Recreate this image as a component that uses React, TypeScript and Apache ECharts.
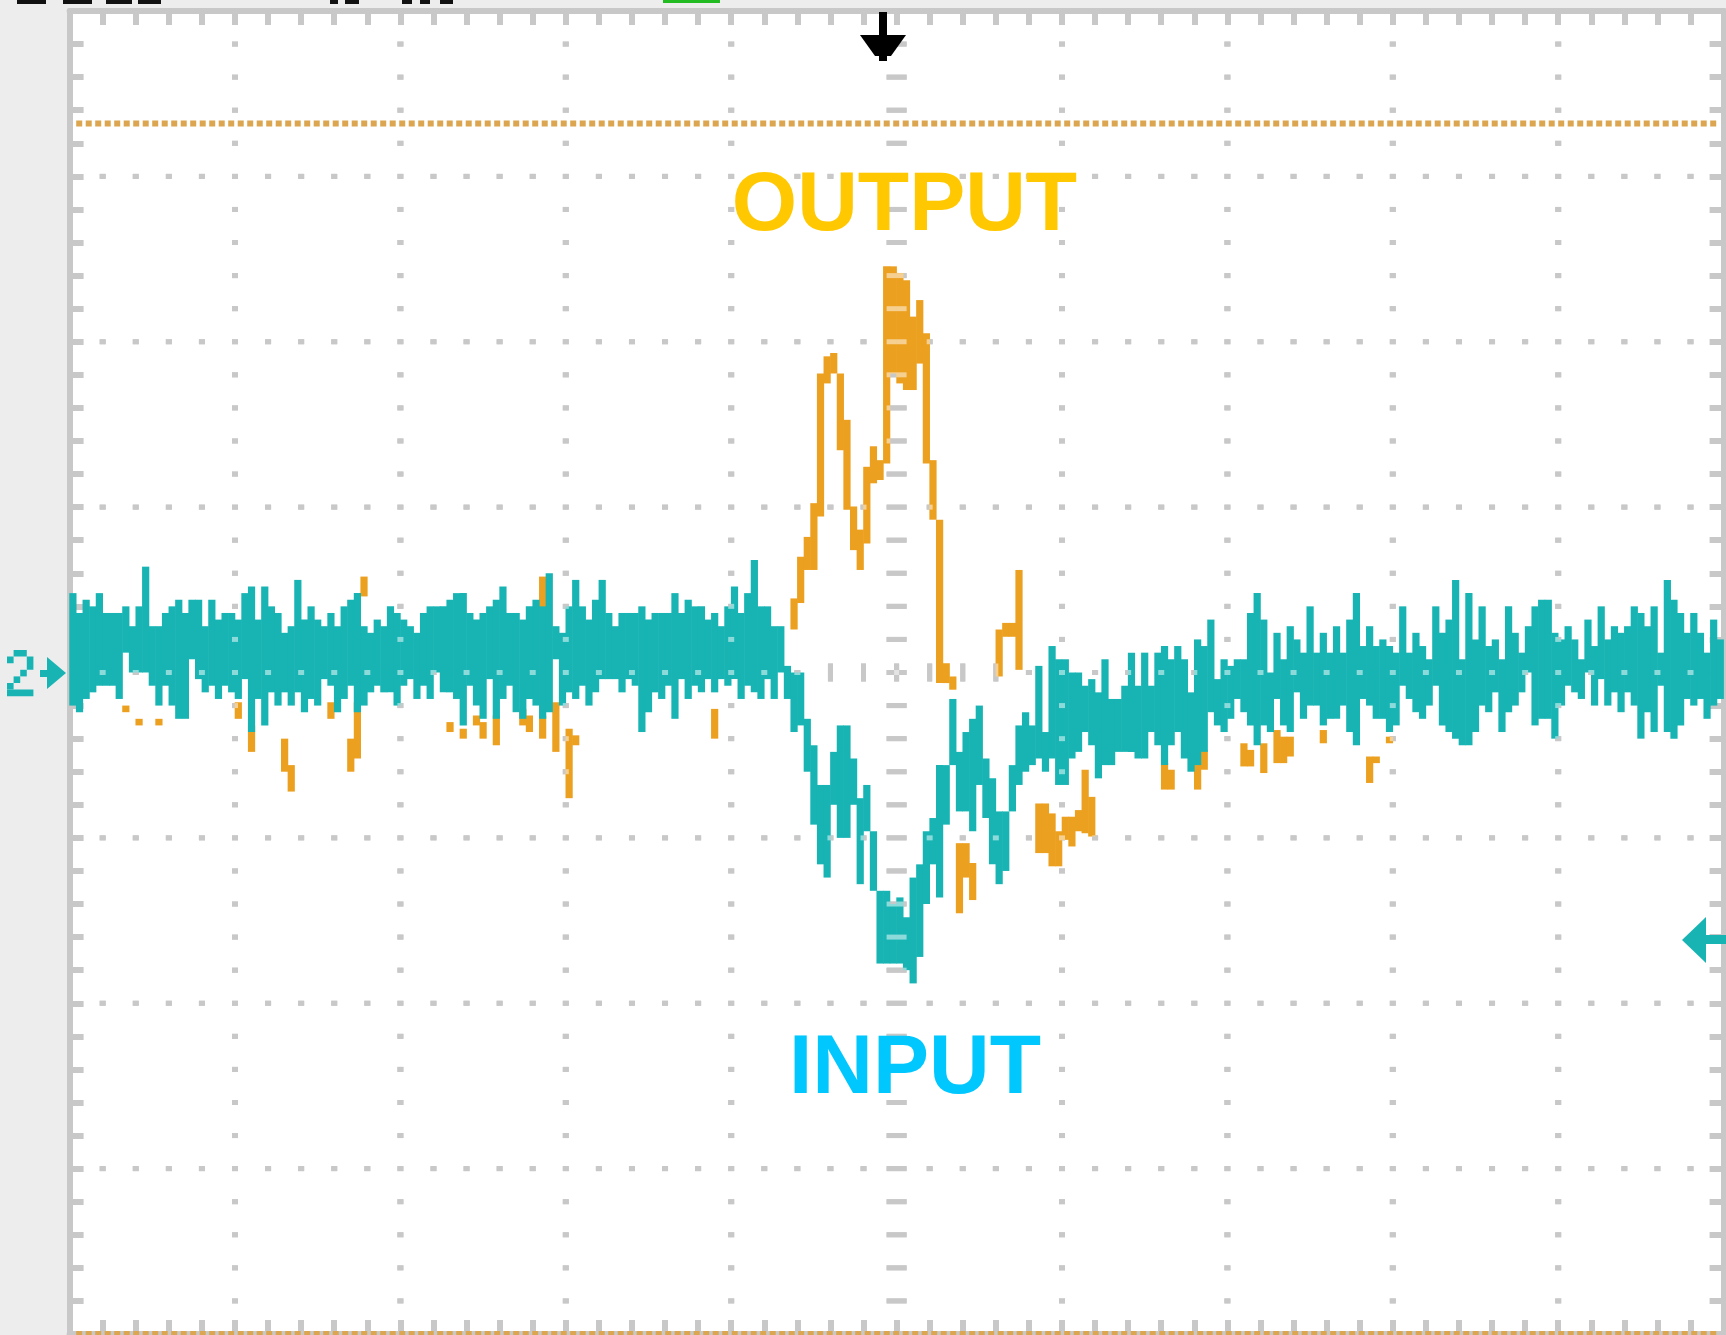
import React, { useEffect, useRef } from "react";
import * as echarts from "echarts";

// Screen units: 10 horizontal divisions x 25 columns, 8 vertical divisions x 25 rows (centre = 0)
const X_MIN = 0;
const X_MAX = 250;
const Y_MIN = -100;
const Y_MAX = 100;
const DIV = 25;
const MINOR = 5;

// Channel 2 — INPUT (teal): per screen column, top and bottom of the drawn trace
const inputHigh = [
  12, 9, 11, 10, 12, 9, 9, 9, 10, 7,
  10, 16, 7, 7, 9, 10, 11, 9, 11, 11,
  7, 11, 8, 9, 9, 8, 12, 13, 8, 13,
  10, 9, 6, 7, 14, 8, 10, 8, 7, 9,
  7, 10, 11, 12, 7, 6, 8, 7, 10, 9,
  8, 7, 6, 9, 10, 10, 10, 11, 12, 12,
  9, 8, 9, 10, 11, 13, 9, 9, 8, 10,
  11, 10, 15, 7, 6, 10, 14, 10, 8, 11,
  14, 9, 7, 9, 9, 9, 10, 8, 9, 9,
  9, 12, 9, 11, 10, 10, 8, 9, 7, 10,
  13, 9, 12, 17, 10, 10, 7, 7, 1, 0,
  0, -7, -11, -17, -17, -12, -8, -8, -13, -19,
  -17, -24, -33, -33, -35, -34, -37, -31, -29, -24,
  -22, -14, -14, -4, -12, -9, -7, -5, -13, -16,
  -21, -21, -14, -8, -6, -8, 1, -9, 4, 2,
  2, 0, 0, -2, -1, -3, 2, -4, -4, -2,
  3, -2, 3, -2, 3, 4, 2, 4, 2, -3,
  5, 4, 8, -1, 2, 1, 2, 2, 9, 12,
  8, 0, 6, 2, 7, 5, 3, 10, 3, 6,
  3, 7, 3, 8, 12, 4, 7, 4, 5, 4,
  3, 10, 3, 6, 4, 2, 10, 6, 8, 14,
  2, 12, 5, 10, 4, 5, 2, 10, 6, 3,
  7, 10, 11, 11, 6, 5, 7, 5, 2, 8,
  4, 10, 5, 7, 6, 7, 10, 9, 7, 10,
  3, 14, 11, 9, 6, 9, 6, 3, 8, 5,
];
const inputLow = [
  -5, -6, -4, -3, -2, -2, -2, -4, 3, 0,
  0, 0, -2, -5, -2, -5, -7, -7, 2, -1,
  -3, -2, -4, -2, -3, -4, -1, -9, -4, -8,
  -3, -5, -3, -5, -3, -6, -4, -5, -1, -2,
  -6, -4, -2, -6, -5, -3, -2, -3, -3, -5,
  -2, -1, -4, -2, -4, 0, -3, -3, -4, -8,
  -2, -5, -7, -1, -7, -4, -2, -6, -7, -4,
  -5, -7, -6, 2, -5, -3, -4, -2, -5, -3,
  -1, -1, -1, -3, -1, -2, -9, -6, -3, -4,
  -2, -7, -1, -4, -2, -3, -1, -3, -1, -2,
  -1, -4, -2, -3, -4, -1, -4, 0, -4, -9,
  -8, -15, -23, -29, -31, -20, -25, -25, -20, -32,
  -24, -33, -44, -44, -44, -44, -45, -47, -43, -35,
  -29, -34, -23, -14, -21, -21, -24, -17, -22, -29,
  -32, -30, -21, -17, -15, -14, -13, -15, -13, -17,
  -17, -13, -12, -9, -11, -16, -14, -14, -12, -12,
  -12, -13, -13, -9, -11, -14, -11, -9, -13, -15,
  -14, -12, -6, -8, -9, -7, -4, -6, -8, -11,
  -8, -9, -4, -8, -9, -3, -7, -5, -5, -8,
  -7, -7, -5, -9, -11, -4, -5, -7, -7, -9,
  -8, -2, -4, -6, -7, -5, -2, -8, -9, -10,
  -11, -11, -9, -5, -6, -3, -9, -6, -5, -3,
  0, -8, -7, -7, -10, -5, -2, -3, -4, 0,
  -5, -1, -5, -3, -6, -3, -5, -10, -6, -9,
  -2, -9, -10, -8, -4, -5, -4, -7, -5, -4,
];

// Channel 1 — OUTPUT (orange): columns where the trace is visible (elsewhere hidden behind INPUT)
const outputCols = [
  8, 10, 13, 25, 27, 32, 33, 39, 42, 43, 44,
  57, 59, 61, 62, 64, 68, 69, 71, 71, 73, 75, 76, 97,
  109, 110, 111, 112, 113, 114, 115, 116, 117, 118, 119, 120, 121, 122,
  123, 124, 125, 126, 127, 128, 129, 130, 131, 132, 133, 134, 135, 136,
  140, 141, 142, 143, 146, 147, 148, 149, 150, 151, 152, 153, 154,
  165, 166, 170, 171, 177, 178, 180, 182, 183, 184, 189, 196, 197, 199,
];
const outputLow = [
  -6, -8, -8, -7, -12, -15, -18, -7, -15, -13, 11.5,
  -9, -10, -8, -10, -11, -8, -9, -10, 9.5, -12, -19, -11, -10,
  6.5, 10.5, 15.5, 15.5, 23.6, 43.7, 45.2, 33.6, 24.6, 18.5, 15.5, 19.5, 28.6, 29.1,
  31.6, 45.2, 43.7, 42.7, 42.7, 46.7, 31.6, 23.1, -1.6, -1.6, -2.6, -36.4, -31, -34.4,
  -0.6, 5.4, 5.4, 0.4, -27.3, -27.3, -29.3, -29.3, -25.3, -26.3, -24, -24.3, -24.8,
  -17.7, -17.7, -17.7, -14.7, -14.2, -14.2, -15.2, -13.7, -13.7, -12.7, -10.7, -16.7, -13.7, -10.7,
];
const outputHigh = [
  -5, -7, -7, -4.5, -8, -10, -14, -4.5, -10, -4.5, 14.5,
  -7.5, -8.5, -6.5, -7.5, -6.5, -5.5, -6.5, -6.5, 14.5, -4.5, -8.5, -9.5, -5.5,
  11.2, 17.5, 20.5, 25.6, 45.2, 47.8, 48.3, 45.2, 38.2, 25.1, 21.6, 31.1, 34.2, 32.1,
  61.4, 61.4, 60.4, 59.3, 53.8, 56.3, 51.3, 32.1, 23.1, 1.4, -0.6, -25.8, -25.8, -28.8,
  6.5, 7.5, 7.5, 15.5, -19.8, -19.8, -21.3, -24, -21.8, -21.8, -20.8, -14.7, -18.8,
  -13.7, -14.7, -11.7, -11.7, -10.7, -11.7, -10.7, -8.7, -9.7, -9.7, -8.7, -12.7, -12.7, -9.7,
];

// Orange dotted reference levels (screen rows)
const refLevels = [83, -100];

const GRID_GRAY = "#c8c8c8";
const TEAL = "#18b4b4";
const ORANGE = "#eca020";
const TOP_Z = 50;

function buildGraticule(): number[][] {
  const seen = new Set<string>();
  const pts: number[][] = [];
  const add = (x: number, y: number, k: number) => {
    const key = x + "," + y + "," + k;
    if (!seen.has(key)) {
      seen.add(key);
      pts.push([x, y, k]);
    }
  };
  const xMaj: number[] = [];
  for (let x = X_MIN + DIV; x < X_MAX; x += DIV) xMaj.push(x);
  const yMaj: number[] = [];
  for (let y = Y_MIN + DIV; y < Y_MAX; y += DIV) yMaj.push(y);
  const cx = (X_MIN + X_MAX) / 2;
  for (const x of xMaj) {
    for (let y = Y_MIN + MINOR; y < Y_MAX; y += MINOR) add(x, y, x === cx ? 1 : 0);
  }
  for (const y of yMaj) {
    for (let x = X_MIN + MINOR; x < X_MAX; x += MINOR) {
      if (x === cx) continue;
      if (y === 0 && x >= cx - 10 && x <= cx + 15) add(x, y, 2);
      else add(x, y, 0);
    }
  }
  add(cx, 0, 2);
  return pts;
}

const rectEl = (x: number, y: number, width: number, height: number, fill: string) => ({
  type: "rect",
  z: TOP_Z,
  shape: { x, y, width, height },
  style: { fill },
});

const polyEl = (points: number[][], fill: string) => ({
  type: "polygon",
  z: TOP_Z,
  shape: { points },
  style: { fill },
});

export default function App() {
  const ref = useRef<HTMLDivElement>(null);

  useEffect(() => {
    if (!ref.current) return;
    const chart = echarts.init(ref.current, undefined, { renderer: "svg" });

    const graticule = buildGraticule();
    const inputData = inputHigh.map((h, i) => [i, inputLow[i], h]);
    const outputData = outputCols.map((c, i) => [c, outputLow[i], outputHigh[i]]);

    const traceRender = (color: string) => (params: any, api: any) => {
      const c = api.value(0);
      const lo = api.value(1);
      const hi = api.value(2);
      const p1 = api.coord([c, hi]);
      const p2 = api.coord([c + 1, lo]);
      return {
        type: "rect",
        shape: { x: p1[0] - 0.3, y: p1[1], width: p2[0] - p1[0] + 0.6, height: p2[1] - p1[1] },
        style: { fill: color },
      };
    };

    const gratRender = (color: string) => (params: any, api: any) => {
      const x = api.value(0);
      const y = api.value(1);
      const k = api.value(2);
      const p = api.coord([x, y]);
      const w = k === 0 ? 6 : k === 1 ? 20 : 5;
      const h = k === 0 ? 5 : k === 1 ? 5 : 18;
      return {
        type: "rect",
        shape: { x: p[0] - w / 2, y: p[1] - h / 2, width: w, height: h },
        style: { fill: color },
      };
    };

    const axisCommon = {
      type: "value",
      axisLine: { show: true, onZero: false, lineStyle: { color: GRID_GRAY, width: 6 } },
      axisTick: { show: true, inside: true, length: 14, lineStyle: { color: GRID_GRAY, width: 6 } },
      minorTick: { show: true, splitNumber: 5, length: 14, lineStyle: { color: GRID_GRAY, width: 6 } },
      axisLabel: { show: false },
      splitLine: { show: false },
      minorSplitLine: { show: false },
    };

    const refSeries = refLevels.map((lv, i) => ({
      type: "line",
      name: "ref" + i,
      data: [
        [X_MIN + 1, lv],
        [X_MAX - 1, lv],
      ],
      symbol: "none",
      silent: true,
      clip: false,
      z: 5,
      lineStyle: { color: "#dba64f", width: 6, type: [6, 3.5] },
    }));

    const black = "#111111";

    const option: any = {
      animation: false,
      backgroundColor: "#ededed",
      grid: {
        left: 69.6,
        top: 11,
        width: 1654,
        height: 1323,
        show: true,
        backgroundColor: "#ffffff",
        borderWidth: 0,
      },
      xAxis: [
        { ...axisCommon, min: X_MIN, max: X_MAX, interval: DIV, position: "bottom" },
        { ...axisCommon, min: X_MIN, max: X_MAX, interval: DIV, position: "top" },
      ],
      yAxis: [
        { ...axisCommon, min: Y_MIN, max: Y_MAX, interval: DIV, position: "left" },
        { ...axisCommon, min: Y_MIN, max: Y_MAX, interval: DIV, position: "right" },
      ],
      series: [
        {
          type: "custom",
          name: "graticule",
          data: graticule,
          renderItem: gratRender("#919191"),
          silent: true,
          z: 1,
        },
        {
          type: "custom",
          name: "OUTPUT",
          data: outputData,
          renderItem: traceRender(ORANGE),
          z: 2,
        },
        {
          type: "custom",
          name: "INPUT",
          data: inputData,
          renderItem: traceRender(TEAL),
          z: 3,
        },
        {
          type: "custom",
          name: "graticule-over",
          data: graticule,
          renderItem: gratRender("rgba(255,255,255,0.5)"),
          silent: true,
          z: 4,
        },
        ...refSeries,
      ],
      graphic: {
        elements: [
          {
            type: "text",
            x: 904.5,
            y: 201,
            z: TOP_Z,
            style: {
              text: "OUTPUT",
              fill: "#ffc800",
              fontSize: 84,
              fontWeight: "bold",
              fontFamily: "Liberation Sans, Arial, sans-serif",
              align: "center",
              verticalAlign: "middle",
            },
          },
          {
            type: "text",
            x: 915,
            y: 1064,
            z: TOP_Z,
            style: {
              text: "INPUT",
              fill: "#00c8ff",
              fontSize: 84,
              fontWeight: "bold",
              fontFamily: "Liberation Sans, Arial, sans-serif",
              align: "center",
              verticalAlign: "middle",
            },
          },
          // trigger position marker (top)
          rectEl(879, 12, 8, 25, "#000000"),
          polyEl([[860, 35], [906, 35], [891, 56], [875, 56]], "#000000"),
          rectEl(879, 54, 8, 7, "#000000"),
          // channel 2 ground marker "2 ▸"
          rectEl(13.6, 650, 13.2, 6.6, TEAL),
          rectEl(7, 656.6, 6.6, 6.6, TEAL),
          rectEl(26.8, 656.6, 6.6, 13.2, TEAL),
          rectEl(20.2, 669.8, 6.6, 6.6, TEAL),
          rectEl(13.6, 676.4, 6.6, 6.6, TEAL),
          rectEl(7, 683, 6.6, 6.6, TEAL),
          rectEl(7, 689.6, 26.4, 6.6, TEAL),
          rectEl(40, 670, 8, 7, TEAL),
          polyEl([[47, 657], [66, 673], [47, 689]], TEAL),
          // channel 2 trigger level marker (right)
          polyEl([[1682, 940], [1706, 917], [1706, 963]], TEAL),
          rectEl(1704, 935, 22, 9, TEAL),
          // cut-off status bar remnants at the very top
          rectEl(17, 0, 29, 4, black),
          rectEl(63, 0, 29, 4, black),
          rectEl(106, 0, 26, 4, black),
          rectEl(138, 0, 23, 4, black),
          rectEl(330, 0, 8, 4, black),
          rectEl(345, 0, 14, 4, black),
          rectEl(402, 0, 10, 4, black),
          rectEl(420, 0, 10, 4, black),
          rectEl(440, 0, 13, 4, black),
          rectEl(663, 0, 57, 3, "#22bb22"),
        ],
      },
    };

    chart.setOption(option);
    return () => chart.dispose();
  }, []);

  return (
    <div
      ref={ref}
      style={{ position: "fixed", left: 0, top: 0, width: 1726, height: 1335, background: "#ededed" }}
    />
  );
}
